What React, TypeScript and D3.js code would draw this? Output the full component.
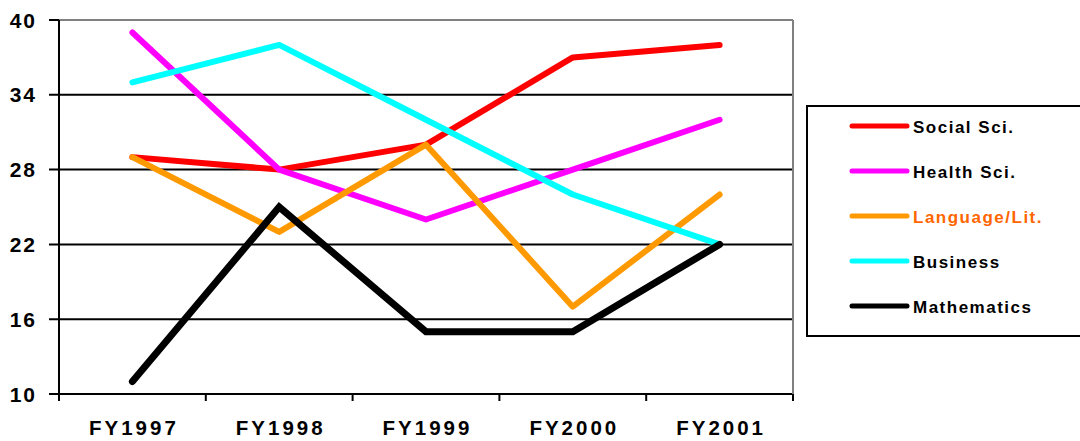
import React from "react";
import * as d3 from "d3";

const years = ["FY1997", "FY1998", "FY1999", "FY2000", "FY2001"];
const yTicks = [10, 16, 22, 28, 34, 40];

const socialSci = [29, 28, 30, 37, 38];
const healthSci = [39, 28, 24, 28, 32];
const languageLit = [29, 23, 30, 17, 26];
const business = [35, 38, 32, 26, 22];
const mathematics = [11, 25, 15, 15, 22];

const seriesNames = ["Social Sci.", "Health Sci.", "Language/Lit.", "Business", "Mathematics"];
const seriesColors = ["#FF0000", "#FF00FF", "#FF9900", "#00FFFF", "#000000"];
const labelColors = ["#000000", "#000000", "#FF6600", "#000000", "#000000"];
const seriesValues = [socialSci, healthSci, languageLit, business, mathematics];

const W = 1080;
const H = 441;
const plot = { left: 59, right: 793, top: 20, bottom: 394 };
const font = "'Liberation Sans', Arial, sans-serif";

export default function App() {
  const x = d3.scaleBand<string>().domain(years).range([plot.left, plot.right]);
  const y = d3.scaleLinear().domain([10, 40]).range([plot.bottom, plot.top]);
  const cx = (c: string) => (x(c) as number) + x.bandwidth() / 2;
  const line = d3
    .line<number>()
    .x((_, i) => cx(years[i]))
    .y((v) => y(v));

  const legend = { x: 807, y: 106, w: 280, h: 230, rowStart: 126, rowStep: 45 };

  return (
    <svg
      width={W}
      height={H}
      style={{ position: "absolute", left: 0, top: 0, background: "#fff" }}
      fontFamily={font}
    >
      {/* horizontal gridlines */}
      {yTicks.map((t) => (
        <line
          key={t}
          x1={plot.left - 10}
          x2={plot.right}
          y1={y(t)}
          y2={y(t)}
          stroke={t === 40 ? "#808080" : "#000"}
          strokeWidth={2}
        />
      ))}
      {/* plot border on the right */}
      <line x1={plot.right} x2={plot.right} y1={plot.top} y2={plot.bottom} stroke="#808080" strokeWidth={2} />
      {/* left axis */}
      <line x1={plot.left} x2={plot.left} y1={plot.top} y2={plot.bottom + 7} stroke="#000" strokeWidth={2} />
      {/* y tick at top in black */}
      <line x1={plot.left - 10} x2={plot.left} y1={y(40)} y2={y(40)} stroke="#000" strokeWidth={2} />
      {/* category ticks */}
      {years.map((c) => (
        <line
          key={c}
          x1={(x(c) as number) + x.bandwidth()}
          x2={(x(c) as number) + x.bandwidth()}
          y1={plot.bottom}
          y2={plot.bottom + 7}
          stroke="#000"
          strokeWidth={2}
        />
      ))}
      {/* y tick labels */}
      {yTicks.map((t) => (
        <text
          key={t}
          x={37}
          y={y(t) + 7.5}
          textAnchor="end"
          fontSize={21}
          fontWeight="bold"
          letterSpacing={2}
        >
          {t}
        </text>
      ))}
      {/* x tick labels */}
      {years.map((c) => (
        <text
          key={c}
          x={cx(c) + 1.5}
          y={435}
          textAnchor="middle"
          fontSize={20.5}
          fontWeight="bold"
          letterSpacing={3}
        >
          {c}
        </text>
      ))}
      {/* series lines */}
      {seriesValues.map((vals, i) => (
        <path
          key={seriesNames[i]}
          d={line(vals) as string}
          fill="none"
          stroke={seriesColors[i]}
          strokeWidth={i === 4 ? 7 : 6}
          strokeLinejoin={i === 4 ? "miter" : "round"}
          strokeLinecap="round"
        />
      ))}
      {/* legend */}
      <rect x={legend.x} y={legend.y} width={legend.w} height={legend.h} fill="#fff" stroke="#000" strokeWidth={2} />
      {seriesNames.map((name, i) => {
        const ry = legend.rowStart + i * legend.rowStep;
        return (
          <g key={name}>
            <line x1={852} x2={907} y1={ry} y2={ry} stroke={seriesColors[i]} strokeWidth={5} strokeLinecap="round" />
            <text x={913} y={ry + 6.5} fontSize={17} fontWeight="bold" letterSpacing={1.5} fill={labelColors[i]}>
              {name}
            </text>
          </g>
        );
      })}
    </svg>
  );
}
